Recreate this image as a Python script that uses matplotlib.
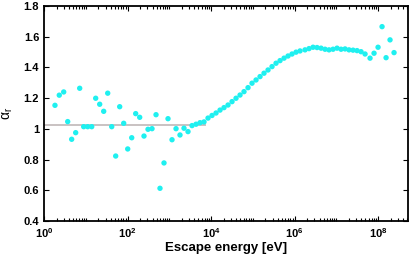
import numpy as np
import matplotlib
matplotlib.use("Agg")
import matplotlib.pyplot as plt
from matplotlib.ticker import LogLocator, FixedLocator, NullFormatter

plt.rcParams['font.family'] = ['Liberation Sans', 'DejaVu Sans']
plt.rcParams['font.weight'] = 'normal'
plt.rcParams['mathtext.fontset'] = 'custom'
plt.rcParams['mathtext.rm'] = 'Liberation Sans'
plt.rcParams['mathtext.bf'] = 'Liberation Sans:bold'
plt.rcParams['mathtext.it'] = 'Liberation Sans:italic'

log_energy = [0.263, 0.366, 0.472, 0.568, 0.663, 0.759, 0.855, 0.951, 1.047, 1.143,
              1.238, 1.334, 1.430, 1.526, 1.622, 1.717, 1.813, 1.909, 2.005, 2.101,
              2.196, 2.292, 2.395, 2.491, 2.587, 2.683, 2.778, 2.874, 2.970, 3.066,
              3.162, 3.257, 3.353, 3.449, 3.545, 3.641, 3.737, 3.832, 3.928, 4.024,
              4.120, 4.216, 4.311, 4.407, 4.503, 4.599, 4.695, 4.790, 4.886, 4.982,
              5.078, 5.174, 5.269, 5.365, 5.461, 5.557, 5.653, 5.749, 5.844, 5.940,
              6.036, 6.132, 6.251, 6.347, 6.443, 6.539, 6.635, 6.731, 6.826, 6.922,
              7.018, 7.114, 7.210, 7.305, 7.401, 7.497, 7.593, 7.689, 7.808, 7.904,
              8.000, 8.096, 8.192, 8.287, 8.383]
alpha_r = [1.153, 1.219, 1.240, 1.047, 0.932, 0.975, 1.264, 1.014, 1.014, 1.014,
           1.199, 1.160, 1.114, 1.232, 1.014, 0.823, 1.144, 1.036, 0.869, 0.942,
           1.099, 1.075, 0.953, 0.997, 1.001, 1.092, 0.613, 0.778, 1.066, 0.929,
           1.001, 0.960, 1.004, 0.982, 1.021, 1.030, 1.040, 1.045, 1.070, 1.087,
           1.103, 1.122, 1.138, 1.155, 1.177, 1.199, 1.220, 1.242, 1.268, 1.297,
           1.318, 1.340, 1.362, 1.383, 1.405, 1.427, 1.444, 1.460, 1.474, 1.487,
           1.499, 1.507, 1.514, 1.522, 1.531, 1.529, 1.525, 1.518, 1.514, 1.518,
           1.525, 1.518, 1.520, 1.514, 1.512, 1.509, 1.502, 1.487, 1.460, 1.492,
           1.531, 1.665, 1.463, 1.579, 1.496]

ref_level = 1.025
ref_range = [1.0, 7e3]

energy = 10.0 ** np.array(log_energy)

fig = plt.figure(figsize=(4.15, 2.57), dpi=100)
ax = fig.add_axes([0.106, 0.140, 0.877, 0.837])

ax.plot(ref_range, [ref_level, ref_level], color='#c9c2c2', lw=1.4, zorder=1)
ax.scatter(energy, alpha_r, s=15, color='#1ff0f0', edgecolors='none', zorder=2)

ax.set_xscale('log')
ax.set_xlim(1, 5.2e8)
ax.set_ylim(0.4, 1.8)
ax.xaxis.set_major_locator(FixedLocator([1, 1e2, 1e4, 1e6, 1e8]))
ax.xaxis.set_minor_locator(LogLocator(base=10, subs=np.arange(1, 10), numticks=50))
ax.xaxis.set_minor_formatter(NullFormatter())
ax.set_xticklabels([r'$\mathbf{10^{0}}$', r'$\mathbf{10^{2}}$', r'$\mathbf{10^{4}}$',
                    r'$\mathbf{10^{6}}$', r'$\mathbf{10^{8}}$'])
ax.set_yticks([0.4, 0.6, 0.8, 1.0, 1.2, 1.4, 1.6, 1.8])
ax.set_yticklabels(['0.4', '0.6', '0.8', '1', '1.2', '1.4', '1.6', '1.8'], fontweight='bold')

ax.tick_params(which='both', direction='in', top=True, right=True, labelsize=8, width=0.8)
ax.tick_params(axis='x', which='major', pad=4)
ax.tick_params(which='major', length=3.5)
ax.tick_params(which='minor', length=2)
for sp in ax.spines.values():
    sp.set_linewidth(1.3)

ax.set_xlabel('Escape energy [eV]', fontsize=9.5, fontweight='bold', labelpad=1)
ax.set_ylabel(r'$\mathregular{\alpha_r}$', fontsize=10, fontweight='normal', labelpad=6)

fig.savefig('out.png', dpi=100)
